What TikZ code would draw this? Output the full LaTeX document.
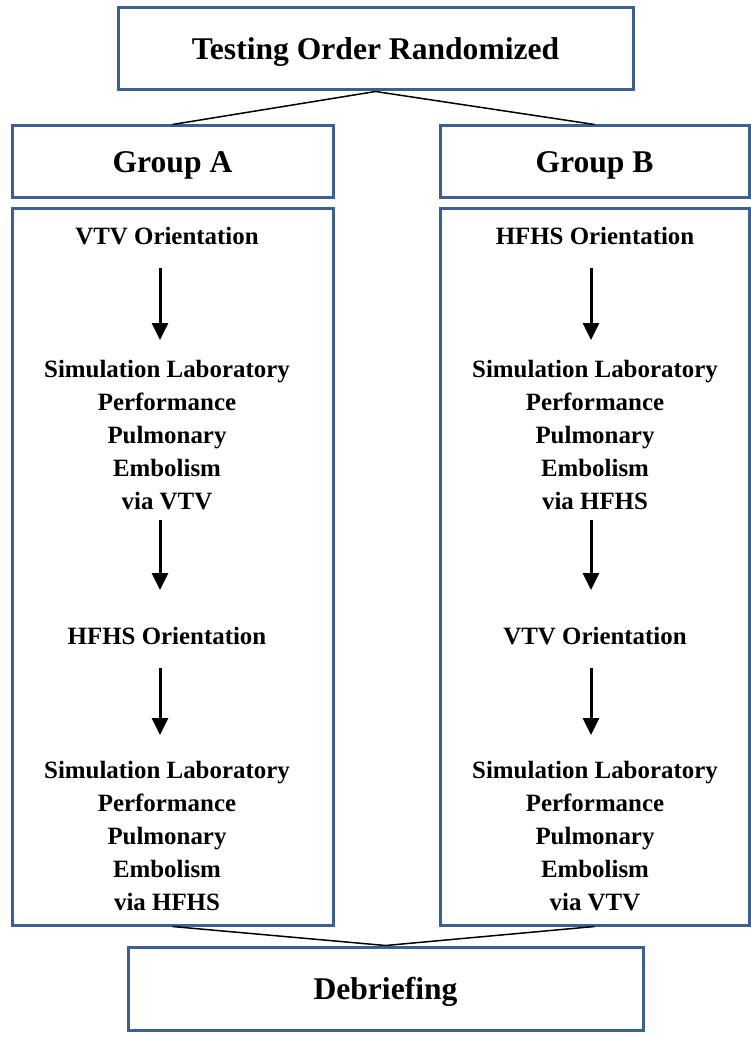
\documentclass[tikz,border=0pt]{standalone}
\usepackage{fontspec}
\setmainfont{Liberation Serif}
\usetikzlibrary{arrows.meta}
\definecolor{boxblue}{RGB}{60,96,145}
\begin{document}
\begin{tikzpicture}[x=1pt,y=-1pt,
  box/.style={draw=boxblue,line width=3pt,rectangle,inner sep=0pt,text height=21pt,text depth=0pt,font=\bfseries\fontsize{31.6}{36}\selectfont},
  txt/.style={font=\bfseries\fontsize{24.9}{33}\selectfont,align=center,anchor=base,inner sep=0pt},
  link/.style={draw=black,line width=1.5pt},
  arr/.style={draw=black,line width=3pt,-{Triangle[width=16pt,length=17pt]}}]
\useasboundingbox (0,0) rectangle (751,1038);
\node[box,minimum width=515,minimum height=82] (top) at (375.5,49) {Testing Order Randomized};
\node[box,minimum width=321,minimum height=71] (ga) at (172.5,161.5) {Group A};
\node[box,minimum width=309,minimum height=71] (gb) at (594.5,161.5) {Group B};
\node[box,minimum width=321,minimum height=717] (ca) at (172.5,566.5) {};
\node[box,minimum width=309,minimum height=717] (cb) at (594.5,566.5) {};
\node[box,minimum width=515,minimum height=83] (deb) at (385.5,988.5) {Debriefing};
\draw[link] (top.south) -- (ga.north);
\draw[link] (top.south) -- (gb.north);
\draw[link] (ca.south) -- (deb.north);
\draw[link] (cb.south) -- (deb.north);
% column A
\node[txt] (a1) at (167,244) {VTV Orientation};
\node[txt] (a2) at (167,509) {Simulation Laboratory\\Performance\\Pulmonary\\Embolism\\via VTV};
\node[txt] (a3) at (167,644) {HFHS Orientation};
\node[txt] (a4) at (167,910) {Simulation Laboratory\\Performance\\Pulmonary\\Embolism\\via HFHS};
% column B
\node[txt] (b1) at (595,244) {HFHS Orientation};
\node[txt] (b2) at (595,509) {Simulation Laboratory\\Performance\\Pulmonary\\Embolism\\via HFHS};
\node[txt] (b3) at (595,644) {VTV Orientation};
\node[txt] (b4) at (595,910) {Simulation Laboratory\\Performance\\Pulmonary\\Embolism\\via VTV};
% arrows
\coordinate (a1s) at (160,268); \coordinate (a2n) at (160,340);
\coordinate (a2s) at (160,520); \coordinate (a3n) at (160,590);
\coordinate (a3s) at (160,668); \coordinate (a4n) at (160,735);
\coordinate (b1s) at (591,268); \coordinate (b2n) at (591,340);
\coordinate (b2s) at (591,520); \coordinate (b3n) at (591,590);
\coordinate (b3s) at (591,668); \coordinate (b4n) at (591,735);
\draw[arr] (a1s) -- (a2n);
\draw[arr] (a2s) -- (a3n);
\draw[arr] (a3s) -- (a4n);
\draw[arr] (b1s) -- (b2n);
\draw[arr] (b2s) -- (b3n);
\draw[arr] (b3s) -- (b4n);
\end{tikzpicture}
\end{document}
